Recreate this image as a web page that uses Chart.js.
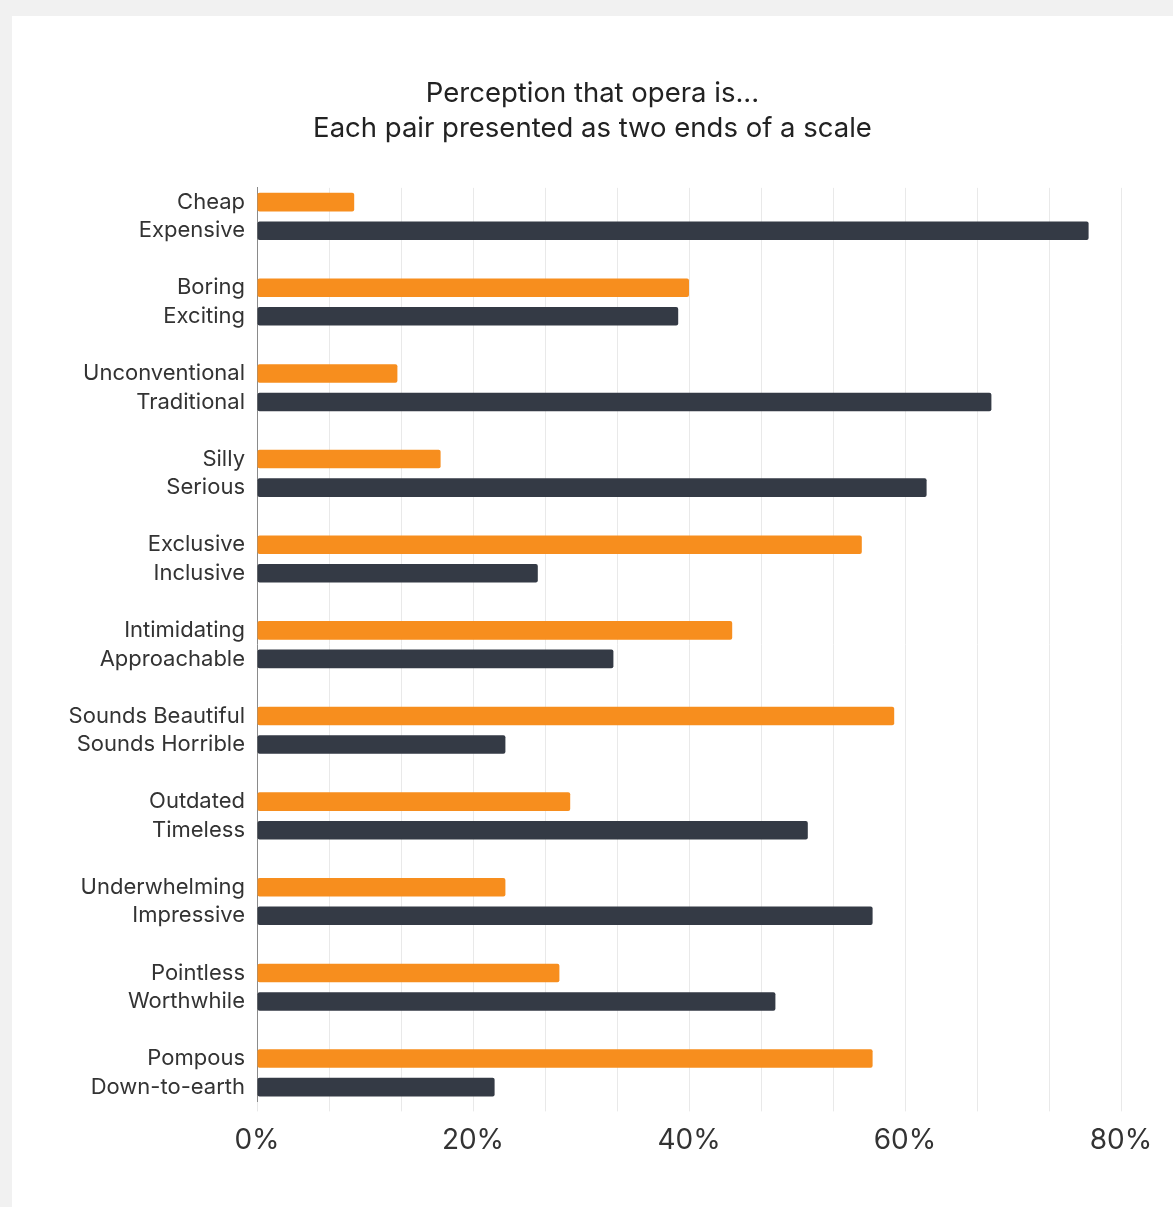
<!DOCTYPE html>
<html>
<head>
    <meta charset="UTF-8">
    <title>Perception that opera is...</title>
    <script src="https://cdn.jsdelivr.net/npm/chart.js"></script>
    <style>
        body {
            margin: 0;
            background: #f1f1f1;
            font-family: Inter, Roboto, sans-serif;
        }

        #card {
            position: absolute;
            left: 12px;
            top: 16px;
            right: 0;
            bottom: 0;
            background: #fff;
        }

        #chart-box {
            width: 1161px;
            height: 1191px;
        }
    </style>
</head>
<body>
<div id="card">
    <div id="chart-box">
        <canvas id="chart"></canvas>
    </div>
</div>

<script>
    // each pair: first word = orange bar, second word = dark bar
    const firstEnd = ["Cheap", "Boring", "Unconventional", "Silly", "Exclusive", "Intimidating",
        "Sounds Beautiful", "Outdated", "Underwhelming", "Pointless", "Pompous"];
    const secondEnd = ["Expensive", "Exciting", "Traditional", "Serious", "Inclusive", "Approachable",
        "Sounds Horrible", "Timeless", "Impressive", "Worthwhile", "Down-to-earth"];
    const firstValues = [9, 40, 13, 17, 56, 44, 59, 29, 23, 28, 57];
    const secondValues = [77, 39, 68, 62, 26, 33, 23, 51, 57, 48, 22];
    const xTicks = [0, 20, 40, 60, 80];

    const ORANGE = "#f78e1e";
    const DARK = "#343a45";

    // lay the pairs out as rows with an empty row between groups
    const labels = [], values = [], colors = [];
    firstEnd.forEach((name, i) => {
        if (i > 0) {
            labels.push("");
            values.push(null);
            colors.push(ORANGE);
        }
        labels.push(name);
        values.push(firstValues[i]);
        colors.push(ORANGE);
        labels.push(secondEnd[i]);
        values.push(secondValues[i]);
        colors.push(DARK);
    });

    // center the title on the whole canvas, not just the padded box
    const fullWidthTitle = {
        id: "fullWidthTitle",
        afterLayout(chart) {
            if (chart.titleBlock) {
                chart.titleBlock.left = 0;
                chart.titleBlock.right = chart.width;
                chart.titleBlock.width = chart.width;
            }
        }
    };

    const ctx = document.getElementById("chart").getContext("2d");
    new Chart(ctx, {
        type: "bar",
        data: {
            labels: labels,
            datasets: [{
                data: values,
                backgroundColor: colors,
                borderRadius: 2,
                borderSkipped: false,
                barPercentage: 0.65,
                categoryPercentage: 1
            }]
        },
        plugins: [fullWidthTitle],
        options: {
            indexAxis: "y",
            responsive: true,
            maintainAspectRatio: false,
            animation: false,
            layout: {
                padding: {top: 60, right: 52, bottom: 38, left: 0}
            },
            plugins: {
                legend: {display: false},
                tooltip: {enabled: false},
                title: {
                    display: true,
                    text: ["Perception that opera is...", "Each pair presented as two ends of a scale"],
                    color: "#222",
                    font: {family: "Inter", size: 27.5, weight: "normal", lineHeight: 1.27},
                    padding: {top: 0, bottom: 42}
                }
            },
            scales: {
                x: {
                    min: 0,
                    max: 80,
                    // light grid every 20/3 %, labels only on the 20% marks
                    afterBuildTicks: function (scale) {
                        const last = xTicks[xTicks.length - 1];
                        const steps = (xTicks.length - 1) * 3;
                        scale.ticks = [];
                        for (let i = 0; i <= steps; i++) {
                            scale.ticks.push({value: last * i / steps});
                        }
                    },
                    grid: {
                        color: "#e9e9e9",
                        lineWidth: 1,
                        drawTicks: true,
                        tickLength: 10,
                        tickColor: "#e9e9e9"
                    },
                    border: {display: false},
                    ticks: {
                        autoSkip: false,
                        maxRotation: 0,
                        padding: 12,
                        color: "#333",
                        font: {family: "Inter", size: 28},
                        callback: function (value, index) {
                            return index % 3 === 0 ? Math.round(value) + "%" : "";
                        }
                    }
                },
                y: {
                    afterFit: function (scale) {
                        scale.width = 245;
                    },
                    grid: {display: false, drawTicks: false},
                    border: {display: true, color: "#8a8a8a", width: 1},
                    ticks: {
                        autoSkip: false,
                        padding: 12,
                        color: "#333",
                        font: {family: "Inter", size: 22}
                    }
                }
            }
        }
    });
</script>
</body>
</html>
